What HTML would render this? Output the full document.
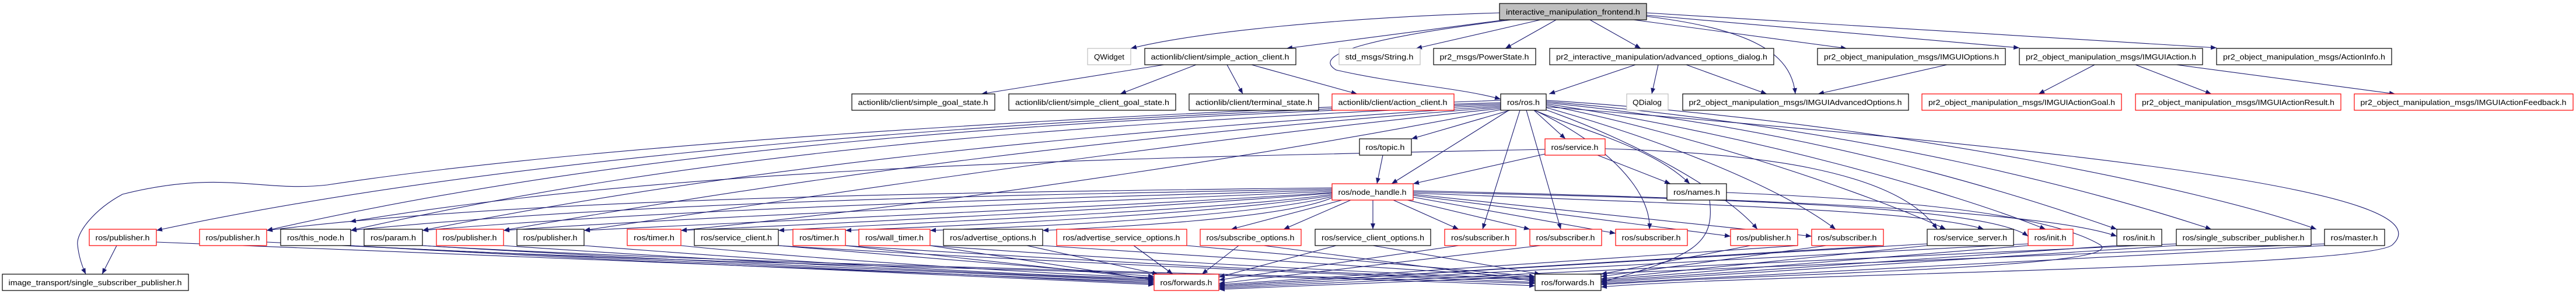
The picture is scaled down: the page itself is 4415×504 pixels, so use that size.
<!DOCTYPE html>
<html><head><meta charset="utf-8"><style>
html,body{margin:0;padding:0;background:#fff;width:4415px;height:504px;overflow:hidden}
svg{display:block}
text{font-family:"Liberation Sans",sans-serif;font-size:13px;fill:#000}
.e{fill:none;stroke:#191970;stroke-width:1.1}
.b{fill:#fff;stroke:#000;stroke-width:1.2}
.r{fill:#fff;stroke:#f00;stroke-width:1.2}
.g{fill:#fff;stroke:#bfbfbf;stroke-width:1.2}
</style></head><body>
<svg width="4415" height="504" viewBox="0 0 4415 504" xmlns="http://www.w3.org/2000/svg">
<defs><marker id="a" markerWidth="10" markerHeight="8" refX="10" refY="4" orient="auto" markerUnits="userSpaceOnUse"><path d="M0,0 L10,4 L0,8 z" fill="#191970"/></marker></defs>
<g class="e" marker-end="url(#a)">
<path d="M2570,22 C2300,30 2050,55 1938,83"/>
<path d="M2580,34 L2205,83"/>
<path d="M2640,34 L2427,83"/>
<path d="M2667,34 L2580,83"/>
<path d="M2725,34 L2812,83"/>
<path d="M2800,34 L3165,83"/>
<path d="M2822,28 C3000,50 3070,90 3077,161"/>
<path d="M2590,34 C2380,60 2240,90 2290,120 C2400,145 2500,150 2572,170"/>
<path d="M2822,26 L3461,82"/>
<path d="M2822,22 L3799,82"/>
<path d="M1995,111 L1682,161"/>
<path d="M2050,111 L1920,161"/>
<path d="M2103,111 L2130,161"/>
<path d="M2145,111 L2326,161"/>
<path d="M2803,111 L2655,161"/>
<path d="M2842,111 L2831,161"/>
<path d="M2890,111 L3028,161"/>
<path d="M3337,111 L3116,161"/>
<path d="M3590,111 L3494,161"/>
<path d="M3660,111 L3790,161"/>
<path d="M3730,111 L4105,161"/>
<path d="M2588,189 L2419,238"/>
<path d="M2629,189 L2683,238"/>
<path d="M2586,189 L2385,315"/>
<path d="M2630,189 C2700,220 2830,250 2896,315"/>
<path d="M2370,266 L2360,315"/>
<path d="M2648,264 L2422,315"/>
<path d="M2738,266 L2863,315"/>
<path d="M2605,189 L2541,393"/>
<path d="M2616,189 L2675,393"/>
<path d="M2630,189 C2760,250 2830,330 2827,393"/>
<path d="M2640,185 C2800,240 2960,330 3012,393"/>
<path d="M2645,183 C2850,240 3050,320 3146,393"/>
<path d="M2650,180 C2900,230 3200,330 3335,393"/>
<path d="M2650,178 C3000,230 3350,330 3506,393"/>
<path d="M2650,176 C3100,220 3450,330 3628,393"/>
<path d="M2650,174 C3200,220 3600,330 3790,393"/>
<path d="M2650,172 C3250,210 3800,330 3970,393"/>
<path d="M2572,172 C1800,200 1000,250 561,317 C450,330 380,290 210,333 C160,360 130,400 133,420 C135,440 140,455 147,470"/>
<path d="M2572,176 C1800,200 900,260 268,395"/>
<path d="M2572,178 C1800,205 1100,250 457,395"/>
<path d="M2572,180 C1800,215 1200,260 601,395"/>
<path d="M2572,182 C1900,225 1300,280 724,395"/>
<path d="M2572,184 C1900,235 1400,300 863,395"/>
<path d="M2572,186 C2000,245 1500,320 1001,395"/>
<path d="M2572,188 C2200,260 1700,340 1167,395"/>
<path d="M2648,256 C2000,270 1200,280 600,380"/>
<path d="M2751,255 C3000,262 3250,290 3320,393"/>
<path d="M2283,322 C1600,330 900,340 457,395"/>
<path d="M2283,324 C1700,335 1100,345 601,395"/>
<path d="M2283,326 C1800,340 1200,355 724,395"/>
<path d="M2283,328 C1900,345 1300,365 863,395"/>
<path d="M2283,330 C2000,350 1400,375 1001,395"/>
<path d="M2283,331 C2000,355 1500,380 1167,395"/>
<path d="M2283,333 C2100,360 1600,380 1334,395"/>
<path d="M2283,335 C2100,365 1700,385 1449,395"/>
<path d="M2283,337 C2150,370 1800,388 1594,395"/>
<path d="M2283,339 C2200,375 1900,390 1787,395"/>
<path d="M2300,343 L2110,393"/>
<path d="M2315,343 L2200,393"/>
<path d="M2353,343 L2353,393"/>
<path d="M2388,343 L2500,393"/>
<path d="M2412,343 L2622,393"/>
<path d="M2422,338 L2769,400"/>
<path d="M2422,335 L2966,405"/>
<path d="M2422,333 L3105,405"/>
<path d="M2422,331 C2900,350 3300,360 3400,393"/>
<path d="M2422,329 C2900,340 3400,350 3476,405"/>
<path d="M2422,327 C3000,340 3500,360 3628,405"/>
<path d="M2959,330 C3200,340 3500,360 3600,420 C3650,460 3000,470 2744,488"/>
<path d="M2930,343 C2940,420 2900,440 2744,484"/>
<path d="M2650,183 C3600,260 4200,330 4100,420 C4050,460 3000,470 2744,492"/>
<path d="M200,421 L175,470"/>
<g>
<path d="M268,415 C900,440 1600,470 1978,484"/>
<path d="M457,415 C1000,440 1600,470 1978,486"/>
<path d="M601,421 C1000,445 1600,470 1978,488"/>
<path d="M724,421 C1100,445 1700,470 1978,482"/>
<path d="M863,421 C1200,445 1700,470 1978,480"/>
<path d="M1001,421 C1300,445 1700,470 1978,478"/>
<path d="M1167,421 C1400,445 1800,470 1978,476"/>
<path d="M1334,421 L1978,474"/>
<path d="M1449,421 L1978,478"/>
<path d="M1594,421 L1978,480"/>
<path d="M1760,421 L1985,470"/>
<path d="M1943,421 L2010,470"/>
<path d="M2123,421 L2060,470"/>
<path d="M2290,421 L2089,475"/>
<path d="M2500,421 L2089,480"/>
<path d="M2640,421 L2089,486"/>
<path d="M601,421 C1200,455 2200,470 2631,490"/>
<path d="M724,421 C1300,455 2200,470 2631,486"/>
<path d="M1334,421 C1800,450 2300,470 2631,484"/>
<path d="M1449,421 C1900,450 2300,470 2631,480"/>
<path d="M1594,421 C2000,450 2400,470 2631,478"/>
<path d="M1787,421 L2631,476"/>
<path d="M2034,421 L2631,474"/>
<path d="M2353,421 L2640,470"/>
<path d="M2166,421 L2631,482"/>
<path d="M3000,421 L2744,470"/>
<path d="M3130,421 L2744,474"/>
<path d="M3303,421 L2744,478"/>
<path d="M3476,421 L2744,480"/>
<path d="M3628,421 L2744,482"/>
<path d="M3730,421 L2744,484"/>
<path d="M3984,421 L2744,486"/>
<path d="M3303,418 L2089,490"/>
<path d="M3476,418 L2089,492"/>
<path d="M3730,418 L2089,494"/>
<path d="M3984,418 L2089,496"/>
<path d="M3081,421 L2089,488"/>
<path d="M3228,421 L2089,490"/>
</g>
</g>
<g>
<rect x="2570" y="6" width="252" height="28" fill="#bfbfbf" stroke="#000" stroke-width="1.2"/><text x="2696" y="25" text-anchor="middle" textLength="230" lengthAdjust="spacingAndGlyphs">interactive_manipulation_frontend.h</text>
<rect class="g" x="1864" y="83" width="74" height="28"/><text x="1901" y="102" text-anchor="middle" textLength="52" lengthAdjust="spacingAndGlyphs">QWidget</text>
<rect class="b" x="1962" y="83" width="259" height="28"/><text x="2091" y="102" text-anchor="middle" textLength="237" lengthAdjust="spacingAndGlyphs">actionlib/client/simple_action_client.h</text>
<rect class="g" x="2295" y="83" width="139" height="28"/><text x="2364" y="102" text-anchor="middle" textLength="117" lengthAdjust="spacingAndGlyphs">std_msgs/String.h</text>
<rect class="b" x="2457" y="83" width="175" height="28"/><text x="2544" y="102" text-anchor="middle" textLength="153" lengthAdjust="spacingAndGlyphs">pr2_msgs/PowerState.h</text>
<rect class="b" x="2656" y="83" width="384" height="28"/><text x="2848" y="102" text-anchor="middle" textLength="362" lengthAdjust="spacingAndGlyphs">pr2_interactive_manipulation/advanced_options_dialog.h</text>
<rect class="b" x="3115" y="83" width="322" height="28"/><text x="3276" y="102" text-anchor="middle" textLength="300" lengthAdjust="spacingAndGlyphs">pr2_object_manipulation_msgs/IMGUIOptions.h</text>
<rect class="b" x="3461" y="83" width="314" height="28"/><text x="3618" y="102" text-anchor="middle" textLength="292" lengthAdjust="spacingAndGlyphs">pr2_object_manipulation_msgs/IMGUIAction.h</text>
<rect class="b" x="3799" y="83" width="300" height="28"/><text x="3949" y="102" text-anchor="middle" textLength="278" lengthAdjust="spacingAndGlyphs">pr2_object_manipulation_msgs/ActionInfo.h</text>

<rect class="b" x="1460" y="161" width="245" height="28"/><text x="1582" y="180" text-anchor="middle" textLength="223" lengthAdjust="spacingAndGlyphs">actionlib/client/simple_goal_state.h</text>
<rect class="b" x="1729" y="161" width="286" height="28"/><text x="1872" y="180" text-anchor="middle" textLength="264" lengthAdjust="spacingAndGlyphs">actionlib/client/simple_client_goal_state.h</text>
<rect class="b" x="2038" y="161" width="222" height="28"/><text x="2149" y="180" text-anchor="middle" textLength="200" lengthAdjust="spacingAndGlyphs">actionlib/client/terminal_state.h</text>
<rect class="r" x="2283" y="161" width="209" height="28"/><text x="2387" y="180" text-anchor="middle" textLength="187" lengthAdjust="spacingAndGlyphs">actionlib/client/action_client.h</text>
<rect class="b" x="2572" y="161" width="78" height="28"/><text x="2611" y="180" text-anchor="middle" textLength="56" lengthAdjust="spacingAndGlyphs">ros/ros.h</text>
<rect class="g" x="2788" y="161" width="71" height="28"/><text x="2823" y="180" text-anchor="middle" textLength="50" lengthAdjust="spacingAndGlyphs">QDialog</text>
<rect class="b" x="2884" y="161" width="387" height="28"/><text x="3077" y="180" text-anchor="middle" textLength="365" lengthAdjust="spacingAndGlyphs">pr2_object_manipulation_msgs/IMGUIAdvancedOptions.h</text>
<rect class="r" x="3294" y="161" width="342" height="28"/><text x="3465" y="180" text-anchor="middle" textLength="320" lengthAdjust="spacingAndGlyphs">pr2_object_manipulation_msgs/IMGUIActionGoal.h</text>
<rect class="r" x="3660" y="161" width="352" height="28"/><text x="3836" y="180" text-anchor="middle" textLength="330" lengthAdjust="spacingAndGlyphs">pr2_object_manipulation_msgs/IMGUIActionResult.h</text>
<rect class="r" x="4035" y="161" width="375" height="28"/><text x="4222" y="180" text-anchor="middle" textLength="353" lengthAdjust="spacingAndGlyphs">pr2_object_manipulation_msgs/IMGUIActionFeedback.h</text>

<rect class="b" x="2330" y="238" width="89" height="28"/><text x="2374" y="257" text-anchor="middle" textLength="67" lengthAdjust="spacingAndGlyphs">ros/topic.h</text>
<rect class="r" x="2648" y="238" width="103" height="28"/><text x="2699" y="257" text-anchor="middle" textLength="81" lengthAdjust="spacingAndGlyphs">ros/service.h</text>
<rect class="r" x="2283" y="315" width="139" height="28"/><text x="2352" y="334" text-anchor="middle" textLength="117" lengthAdjust="spacingAndGlyphs">ros/node_handle.h</text>
<rect class="b" x="2857" y="315" width="102" height="28"/><text x="2908" y="334" text-anchor="middle" textLength="80" lengthAdjust="spacingAndGlyphs">ros/names.h</text>

<rect class="r" x="153" y="393" width="115" height="28"/><text x="210" y="412" text-anchor="middle" textLength="93" lengthAdjust="spacingAndGlyphs">ros/publisher.h</text>
<rect class="r" x="342" y="393" width="115" height="28"/><text x="399" y="412" text-anchor="middle" textLength="93" lengthAdjust="spacingAndGlyphs">ros/publisher.h</text>
<rect class="b" x="481" y="393" width="120" height="28"/><text x="541" y="412" text-anchor="middle" textLength="98" lengthAdjust="spacingAndGlyphs">ros/this_node.h</text>
<rect class="b" x="624" y="393" width="100" height="28"/><text x="674" y="412" text-anchor="middle" textLength="78" lengthAdjust="spacingAndGlyphs">ros/param.h</text>
<rect class="r" x="748" y="393" width="115" height="28"/><text x="805" y="412" text-anchor="middle" textLength="93" lengthAdjust="spacingAndGlyphs">ros/publisher.h</text>
<rect class="b" x="886" y="393" width="115" height="28"/><text x="943" y="412" text-anchor="middle" textLength="93" lengthAdjust="spacingAndGlyphs">ros/publisher.h</text>
<rect class="r" x="1075" y="393" width="92" height="28"/><text x="1121" y="412" text-anchor="middle" textLength="70" lengthAdjust="spacingAndGlyphs">ros/timer.h</text>
<rect class="b" x="1190" y="393" width="144" height="28"/><text x="1262" y="412" text-anchor="middle" textLength="122" lengthAdjust="spacingAndGlyphs">ros/service_client.h</text>
<rect class="r" x="1359" y="393" width="90" height="28"/><text x="1404" y="412" text-anchor="middle" textLength="68" lengthAdjust="spacingAndGlyphs">ros/timer.h</text>
<rect class="r" x="1472" y="393" width="122" height="28"/><text x="1533" y="412" text-anchor="middle" textLength="100" lengthAdjust="spacingAndGlyphs">ros/wall_timer.h</text>
<rect class="b" x="1617" y="393" width="170" height="28"/><text x="1702" y="412" text-anchor="middle" textLength="148" lengthAdjust="spacingAndGlyphs">ros/advertise_options.h</text>
<rect class="r" x="1811" y="393" width="223" height="28"/><text x="1922" y="412" text-anchor="middle" textLength="201" lengthAdjust="spacingAndGlyphs">ros/advertise_service_options.h</text>
<rect class="r" x="2057" y="393" width="173" height="28"/><text x="2143" y="412" text-anchor="middle" textLength="151" lengthAdjust="spacingAndGlyphs">ros/subscribe_options.h</text>
<rect class="b" x="2254" y="393" width="198" height="28"/><text x="2353" y="412" text-anchor="middle" textLength="176" lengthAdjust="spacingAndGlyphs">ros/service_client_options.h</text>
<rect class="r" x="2476" y="393" width="122" height="28"/><text x="2537" y="412" text-anchor="middle" textLength="100" lengthAdjust="spacingAndGlyphs">ros/subscriber.h</text>
<rect class="r" x="2622" y="393" width="123" height="28"/><text x="2683" y="412" text-anchor="middle" textLength="101" lengthAdjust="spacingAndGlyphs">ros/subscriber.h</text>
<rect class="r" x="2769" y="393" width="123" height="28"/><text x="2830" y="412" text-anchor="middle" textLength="101" lengthAdjust="spacingAndGlyphs">ros/subscriber.h</text>
<rect class="r" x="2966" y="393" width="115" height="28"/><text x="3023" y="412" text-anchor="middle" textLength="93" lengthAdjust="spacingAndGlyphs">ros/publisher.h</text>
<rect class="r" x="3105" y="393" width="123" height="28"/><text x="3166" y="412" text-anchor="middle" textLength="101" lengthAdjust="spacingAndGlyphs">ros/subscriber.h</text>
<rect class="b" x="3303" y="393" width="148" height="28"/><text x="3377" y="412" text-anchor="middle" textLength="126" lengthAdjust="spacingAndGlyphs">ros/service_server.h</text>
<rect class="r" x="3476" y="393" width="77" height="28"/><text x="3514" y="412" text-anchor="middle" textLength="55" lengthAdjust="spacingAndGlyphs">ros/init.h</text>
<rect class="b" x="3628" y="393" width="77" height="28"/><text x="3666" y="412" text-anchor="middle" textLength="55" lengthAdjust="spacingAndGlyphs">ros/init.h</text>
<rect class="b" x="3730" y="393" width="231" height="28"/><text x="3845" y="412" text-anchor="middle" textLength="209" lengthAdjust="spacingAndGlyphs">ros/single_subscriber_publisher.h</text>
<rect class="b" x="3984" y="393" width="103" height="28"/><text x="4035" y="412" text-anchor="middle" textLength="81" lengthAdjust="spacingAndGlyphs">ros/master.h</text>

<rect class="b" x="4" y="470" width="319" height="28"/><text x="163" y="489" text-anchor="middle" textLength="297" lengthAdjust="spacingAndGlyphs">image_transport/single_subscriber_publisher.h</text>
<rect class="r" x="1978" y="470" width="111" height="28"/><text x="2033" y="489" text-anchor="middle" textLength="89" lengthAdjust="spacingAndGlyphs">ros/forwards.h</text>
<rect class="b" x="2631" y="470" width="113" height="28"/><text x="2687" y="489" text-anchor="middle" textLength="91" lengthAdjust="spacingAndGlyphs">ros/forwards.h</text>
</g>
</svg>
</body></html>
